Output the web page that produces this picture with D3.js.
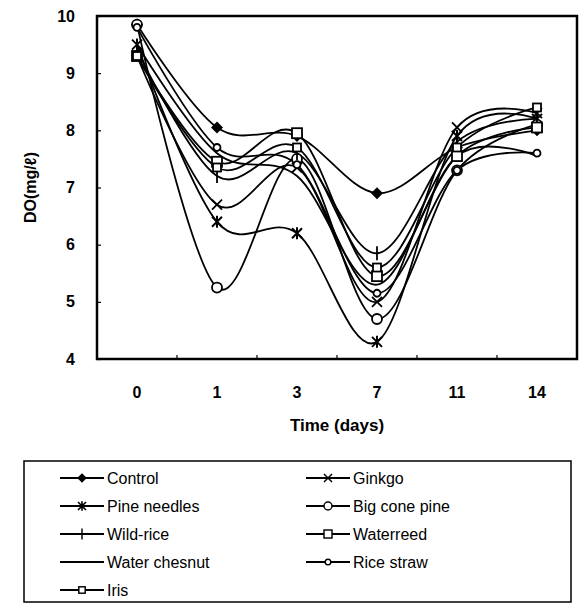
<!DOCTYPE html>
<html>
<head>
<meta charset="utf-8">
<script src="https://cdn.jsdelivr.net/npm/d3@7"></script>
<style>
  body { margin: 0; background: #fff; }
  text { font-family: "Liberation Sans", Arial, sans-serif; fill: #000; }
</style>
</head>
<body>
<svg width="584" height="604"></svg>
<script>
const days = ["0", "1", "3", "7", "11", "14"];
const yTicks = [4, 5, 6, 7, 8, 9, 10];

const control = [9.85, 8.05, 7.9, 6.9, 7.7, 8.0];
const ginkgo = [9.3, 6.7, 7.35, 5.0, 8.05, 8.3];
const pineNeedles = [9.5, 6.4, 6.2, 4.3, 7.9, 8.2];
const bigConePine = [9.85, 5.25, 7.5, 4.7, 7.3, 8.1];
const wildRice = [9.4, 7.2, 7.6, 5.85, 7.8, 8.2];
const waterreed = [9.3, 7.45, 7.95, 5.45, 7.55, 8.05];
const waterChesnut = [9.5, 7.6, 7.2, 5.3, 7.55, 7.55];
const riceStraw = [9.8, 7.7, 7.4, 5.15, 7.3, 7.6];
const iris = [9.3, 7.35, 7.7, 5.6, 7.7, 8.4];

const seriesNames = ["Control", "Ginkgo", "Pine needles", "Big cone pine", "Wild-rice",
  "Waterreed", "Water chesnut", "Rice straw", "Iris"];
const seriesValues = [control, ginkgo, pineNeedles, bigConePine, wildRice,
  waterreed, waterChesnut, riceStraw, iris];
const markerTypes = ["diamond", "x", "asterisk", "circle", "plus", "square", "none", "smallcircle", "smallsquare"];

const plot = { l: 97, r: 577, t: 16, b: 359 };
const svg = d3.select("svg");

const scaleX = d3.scaleBand().domain(days).range([plot.l, plot.r]);
const cx = (d) => scaleX(d) + scaleX.bandwidth() / 2;
const scaleY = d3.scaleLinear().domain([4, 10]).range([plot.b, plot.t]);

// y axis, ticks pointing inward
const axisY = d3.axisLeft(scaleY).tickValues(yTicks).tickFormat(d3.format("d"))
  .tickSize(-4).tickPadding(22);
const axisYG = svg.append("g")
  .attr("transform", `translate(${plot.l},0)`)
  .call(axisY);
axisYG.select(".domain").remove();
axisYG.selectAll("line").attr("stroke", "#000").attr("stroke-width", 1.2);
axisYG.selectAll("text")
  .attr("font-size", 16).attr("font-weight", "bold")
  .attr("font-family", "Liberation Sans, Arial, sans-serif");

// x axis: ticks at category boundaries, labels at centres
const bounds = days.slice(1).map((d) => scaleX(d));
svg.append("g").selectAll("line").data(bounds).join("line")
  .attr("x1", (d) => d).attr("x2", (d) => d)
  .attr("y1", plot.b).attr("y2", plot.b - 4)
  .attr("stroke", "#000").attr("stroke-width", 1.2);
svg.append("g").selectAll("text").data(days).join("text")
  .attr("x", cx).attr("y", 398)
  .attr("text-anchor", "middle")
  .attr("font-size", 16).attr("font-weight", "bold")
  .text((d) => d);

// frame
svg.append("rect")
  .attr("x", plot.l).attr("y", plot.t)
  .attr("width", plot.r - plot.l).attr("height", plot.b - plot.t)
  .attr("fill", "none").attr("stroke", "#000").attr("stroke-width", 2.5);

// axis titles
svg.append("text")
  .attr("x", 337).attr("y", 431)
  .attr("text-anchor", "middle")
  .attr("font-size", 17).attr("font-weight", "bold")
  .text("Time (days)");
svg.append("text")
  .attr("transform", "rotate(-90)")
  .attr("x", -(plot.t + plot.b) / 2).attr("y", 36)
  .attr("text-anchor", "middle")
  .attr("font-size", 16).attr("font-weight", "bold")
  .text("DO(mg/ℓ)");

function drawMarker(g, type) {
  const s = 5;
  if (type === "diamond") {
    g.append("path").attr("d", `M0,${-s - 1}L${s + 1},0L0,${s + 1}L${-s - 1},0Z`).attr("fill", "#000");
  } else if (type === "x") {
    g.append("path").attr("d", `M${-s},${-s}L${s},${s}M${-s},${s}L${s},${-s}`)
      .attr("stroke", "#000").attr("stroke-width", 1.8);
  } else if (type === "asterisk") {
    g.append("path").attr("d", `M${-s},${-s}L${s},${s}M${-s},${s}L${s},${-s}M0,${-s - 1}L0,${s + 1}`)
      .attr("stroke", "#000").attr("stroke-width", 2);
  } else if (type === "circle") {
    g.append("circle").attr("r", 5).attr("fill", "#fff").attr("stroke", "#000").attr("stroke-width", 1.8);
  } else if (type === "plus") {
    g.append("path").attr("d", `M0,${-s - 2}L0,${s + 2}`)
      .attr("stroke", "#000").attr("stroke-width", 1.8);
  } else if (type === "square") {
    g.append("rect").attr("x", -5).attr("y", -5).attr("width", 10).attr("height", 10)
      .attr("fill", "#fff").attr("stroke", "#000").attr("stroke-width", 1.8);
  } else if (type === "smallcircle") {
    g.append("circle").attr("r", 3.5).attr("fill", "#fff").attr("stroke", "#000").attr("stroke-width", 1.8);
  } else if (type === "smallsquare") {
    g.append("rect").attr("x", -4).attr("y", -4).attr("width", 8).attr("height", 8)
      .attr("fill", "#fff").attr("stroke", "#000").attr("stroke-width", 1.8);
  }
}

const line = d3.line()
  .x((d, i) => cx(days[i]))
  .y((d) => scaleY(d))
  .curve(d3.curveCatmullRom.alpha(0));

const linesG = svg.append("g");
seriesValues.forEach((vals) => {
  linesG.append("path")
    .datum(vals)
    .attr("d", line)
    .attr("fill", "none")
    .attr("stroke", "#000")
    .attr("stroke-width", 1.8);
});
const markersG = svg.append("g");
seriesValues.forEach((vals, k) => {
  vals.forEach((v, i) => {
    const g = markersG.append("g").attr("transform", `translate(${cx(days[i])},${scaleY(v)})`);
    drawMarker(g, markerTypes[k]);
  });
});

// legend
svg.append("rect")
  .attr("x", 24).attr("y", 461).attr("width", 547).attr("height", 141)
  .attr("fill", "none").attr("stroke", "#000").attr("stroke-width", 1.5);
seriesNames.forEach((name, k) => {
  const col = k % 2, row = Math.floor(k / 2);
  const x0 = col === 0 ? 60 : 306;
  const y0 = 478 + row * 28;
  const g = svg.append("g");
  g.append("line").attr("x1", x0).attr("x2", x0 + 44).attr("y1", y0).attr("y2", y0)
    .attr("stroke", "#000").attr("stroke-width", 1.8);
  drawMarker(g.append("g").attr("transform", `translate(${x0 + 22},${y0}) scale(0.8)`), markerTypes[k]);
  g.append("text").attr("x", x0 + 47).attr("y", y0 + 6)
    .attr("font-size", 16).text(name);
});
</script>
</body>
</html>
